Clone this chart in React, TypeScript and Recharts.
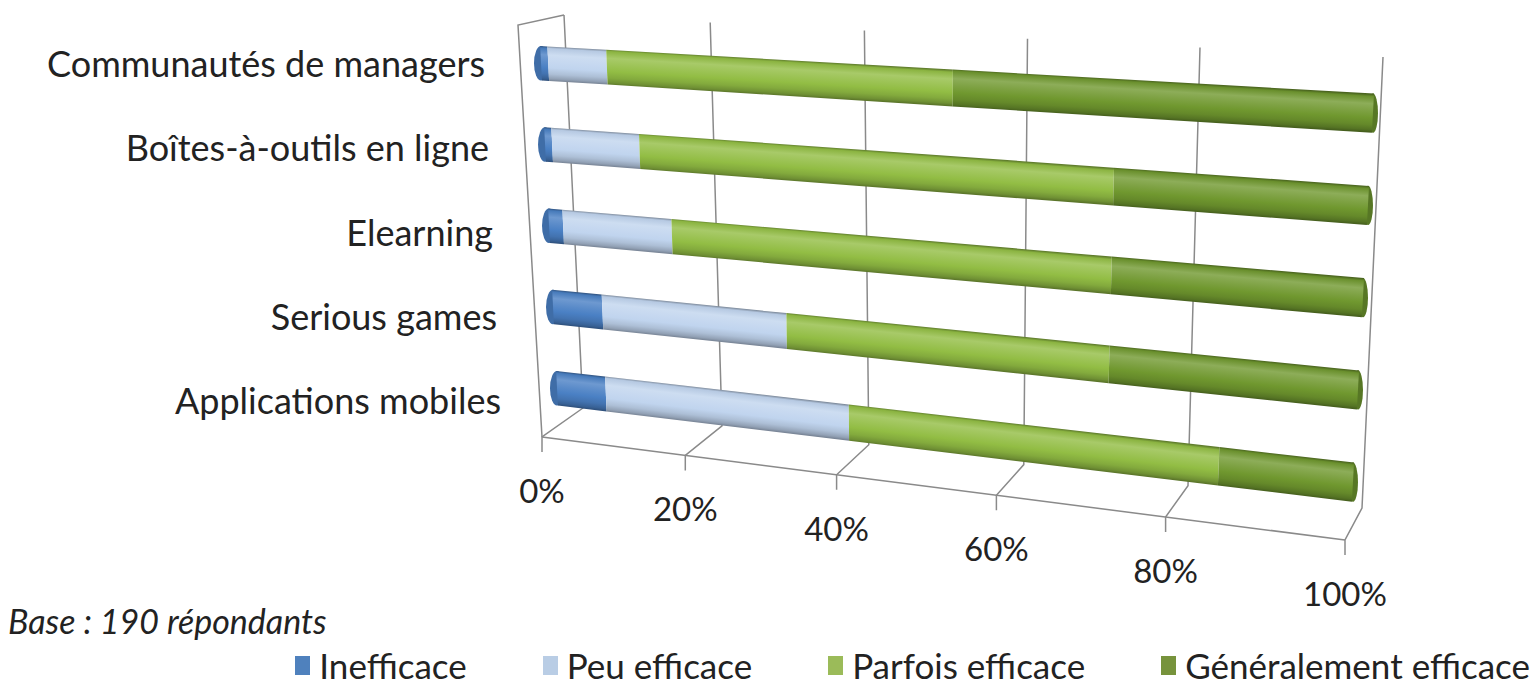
import { BarChart, Bar, XAxis, YAxis, CartesianGrid } from 'recharts';

const CATEGORIES = [
  'Communautés de managers',
  'Boîtes-à-outils en ligne',
  'Elearning',
  'Serious games',
  'Applications mobiles',
];
const INEFFICACE = [1, 1, 2, 7, 7];
const PEU_EFFICACE = [8, 12, 15, 25, 33];
const PARFOIS_EFFICACE = [44, 59, 55, 40, 45];
const GENERALEMENT_EFFICACE = [47, 28, 28, 28, 15];
const PERCENT_TICKS = [0, 20, 40, 60, 80, 100];

const SERIES = [
  { key: 'inefficace', label: 'Inefficace', values: INEFFICACE, color: '#4a80c4', legend: '#4f81bd' },
  { key: 'peu', label: 'Peu efficace', values: PEU_EFFICACE, color: '#c0d4ee', legend: '#b9cde5' },
  { key: 'parfois', label: 'Parfois efficace', values: PARFOIS_EFFICACE, color: '#92bd44', legend: '#9bbb59' },
  { key: 'generalement', label: 'Généralement efficace', values: GENERALEMENT_EFFICACE, color: '#70982f', legend: '#77933c' },
];

const data = CATEGORIES.map((name, i) => {
  const row: Record<string, string | number> = { name };
  SERIES.forEach(s => { row[s.key] = s.values[i]; });
  return row;
});

const FONT = 'Lato, "Open Sans", sans-serif';
const WIDTH = 1537;
const HEIGHT = 685;
// flat plot area, later bent into the 3D look
const PLOT = { left: 539, top: 22, width: 836, height: 506 };

type Pt = [number, number];

// perspective along the value axis (right side is closer to the viewer)
const DEPTH = 0.131;
const persp = (u: number) => (u * (1 - DEPTH)) / (1 - DEPTH * u);
const lerp = (a: Pt, b: Pt, t: number): Pt => [a[0] + (b[0] - a[0]) * t, a[1] + (b[1] - a[1]) * t];
const along = (edge: [Pt, Pt], u: number) => lerp(edge[0], edge[1], persp(u));

const BAR_PLANE = {
  tl: [539, 22.4] as Pt,
  tr: [1375.5, 66.9] as Pt,
  bl: [559, 428.6] as Pt,
  br: [1350.5, 528.1] as Pt,
};
const WALL_TOP: [Pt, Pt] = [[564, 15], [1383, 57]];
const WALL_BOTTOM: [Pt, Pt] = [[583, 408], [1362, 508]];
const FLOOR_FRONT: [Pt, Pt] = [[542, 437], [1345, 540]];
const SIDE_CORNER: Pt = [518, 25];
const GRID_COLOR = '#8a8a8a';

function barPoint(u: number, v: number): Pt {
  const l = lerp(BAR_PLANE.tl, BAR_PLANE.bl, v);
  const r = lerp(BAR_PLANE.tr, BAR_PLANE.br, v);
  return lerp(l, r, persp(u));
}

// light profile across the cylinder: [offset, lighten(+)/darken(-)]
const LIGHT_PROFILE: [number, number][] = [
  [0, -0.34],
  [0.06, -0.05],
  [0.25, 0.2],
  [0.45, 0.09],
  [0.62, 0],
  [0.8, -0.1],
  [0.93, -0.24],
  [1, -0.38],
];

function shade(hex: string, k: number) {
  const n = parseInt(hex.slice(1), 16);
  const ch = [(n >> 16) & 255, (n >> 8) & 255, n & 255].map(c =>
    Math.round(k >= 0 ? c + (255 - c) * k : c * (1 + k))
  );
  return `rgb(${ch.join(',')})`;
}

const pts = (list: Pt[]) => list.map(p => `${p[0].toFixed(1)},${p[1].toFixed(1)}`).join(' ');

function renderCylinder(props: any, seriesIndex: number) {
  const { x, y, width, height, index } = props;
  if (!width) return <g />;
  const u0 = (x - PLOT.left) / PLOT.width;
  const u1 = (x + width - PLOT.left) / PLOT.width;
  const v0 = (y - PLOT.top) / PLOT.height;
  const v1 = (y + height - PLOT.top) / PLOT.height;
  const vm = (v0 + v1) / 2;
  const um = (u0 + u1) / 2;
  const base = SERIES[seriesIndex].color;
  const id = `cyl-${seriesIndex}-${index}`;

  // gradient runs across the bar, perpendicular to its slanted axis
  const l = barPoint(u0, vm);
  const r = barPoint(u1, vm);
  const len = Math.hypot(r[0] - l[0], r[1] - l[1]) || 1;
  const n: Pt = [-(r[1] - l[1]) / len, (r[0] - l[0]) / len];
  const a = barPoint(um, v0);
  const b = barPoint(um, v1);
  const thick = (b[0] - a[0]) * n[0] + (b[1] - a[1]) * n[1];

  const cap = (u: number, rx: number, k: number) => {
    const top = barPoint(u, v0);
    const bot = barPoint(u, v1);
    const c = lerp(top, bot, 0.5);
    const ry = Math.hypot(bot[0] - top[0], bot[1] - top[1]) / 2;
    return <ellipse cx={c[0]} cy={c[1]} rx={rx} ry={ry} fill={shade(base, k)} />;
  };

  return (
    <g>
      <defs>
        <linearGradient
          id={id}
          gradientUnits="userSpaceOnUse"
          x1={a[0]}
          y1={a[1]}
          x2={a[0] + n[0] * thick}
          y2={a[1] + n[1] * thick}
        >
          {LIGHT_PROFILE.map(([o, k]) => (
            <stop key={o} offset={o} stopColor={shade(base, k)} />
          ))}
        </linearGradient>
      </defs>
      {seriesIndex === 0 && cap(u0, 7, -0.15)}
      {seriesIndex === SERIES.length - 1 && cap(u1, 5, -0.22)}
      <polygon
        points={pts([barPoint(u0, v0), barPoint(u1, v0), barPoint(u1, v1), barPoint(u0, v1)])}
        fill={`url(#${id})`}
      />
    </g>
  );
}

function renderGridLine(props: any) {
  const { x1, index } = props;
  const u = (x1 - PLOT.left) / PLOT.width;
  const top = along(WALL_TOP, u);
  const bottom = along(WALL_BOTTOM, u);
  const front = along(FLOOR_FRONT, u);
  const line = { stroke: GRID_COLOR, strokeWidth: 1.5, fill: 'none' };
  return (
    <g key={`grid-${index}`}>
      <polyline points={pts([top, bottom, front, [front[0], front[1] + 15]])} {...line} />
      {Math.abs(u) < 1e-6 && (
        <>
          <polyline points={pts([front, SIDE_CORNER, top])} {...line} />
          <line
            x1={front[0]}
            y1={front[1]}
            x2={FLOOR_FRONT[1][0]}
            y2={FLOOR_FRONT[1][1]}
            {...line}
          />
        </>
      )}
    </g>
  );
}

function PercentTick(props: any) {
  const { x, payload } = props;
  const u = (x - PLOT.left) / PLOT.width;
  const p = along(FLOOR_FRONT, u);
  return (
    <text x={p[0]} y={p[1] + 66} textAnchor="middle" fontFamily={FONT} fontSize={33} fill="#222">
      {`${payload.value}%`}
    </text>
  );
}

function CategoryTick(props: any) {
  const { y, payload } = props;
  const v = (y - PLOT.top) / PLOT.height;
  const left = barPoint(0, v);
  return (
    <text
      x={left[0] - 56}
      y={22.9 + 421.25 * v + 12}
      textAnchor="end"
      fontFamily={FONT}
      fontSize={36}
      fill="#222"
    >
      {payload.value}
    </text>
  );
}

export default function App() {
  return (
    <div
      style={{
        position: 'absolute',
        left: 0,
        top: 0,
        width: WIDTH,
        height: HEIGHT,
        background: '#fff',
        fontFamily: FONT,
        color: '#222',
      }}
    >
      <BarChart
        width={WIDTH}
        height={HEIGHT}
        data={data}
        layout="vertical"
        barCategoryGap="29%"
        margin={{ top: PLOT.top, right: WIDTH - PLOT.left - PLOT.width, bottom: 0, left: 0 }}
      >
        <CartesianGrid horizontal={false} vertical={renderGridLine} />
        <XAxis
          type="number"
          domain={[0, 100]}
          ticks={PERCENT_TICKS}
          height={HEIGHT - PLOT.top - PLOT.height}
          tick={<PercentTick />}
          axisLine={false}
          tickLine={false}
          interval={0}
        />
        <YAxis
          type="category"
          dataKey="name"
          width={PLOT.left}
          tick={<CategoryTick />}
          axisLine={false}
          tickLine={false}
          interval={0}
        />
        {SERIES.map((s, i) => (
          <Bar
            key={s.key}
            dataKey={s.key}
            name={s.label}
            stackId="a"
            fill={s.color}
            isAnimationActive={false}
            shape={(props: any) => renderCylinder(props, i)}
          />
        ))}
      </BarChart>

      <div style={{ position: 'absolute', left: 8, top: 600, fontSize: 34, fontStyle: 'italic' }}>
        Base : 190 répondants
      </div>

      <div
        style={{
          position: 'absolute',
          right: 7,
          top: 646,
          display: 'flex',
          gap: 76,
          fontSize: 35,
          lineHeight: '38px',
        }}
      >
        {SERIES.map(s => (
          <div key={s.key} style={{ display: 'flex', alignItems: 'center', gap: 9 }}>
            <span style={{ width: 15, height: 19, background: s.legend, display: 'inline-block' }} />
            <span>{s.label}</span>
          </div>
        ))}
      </div>
    </div>
  );
}
